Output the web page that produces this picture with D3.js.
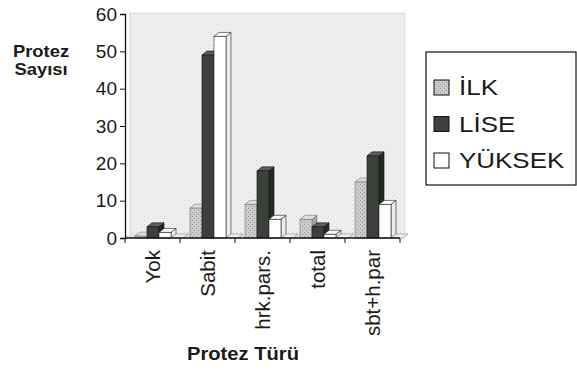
<!DOCTYPE html>
<html>
<head>
<meta charset="utf-8">
<script src="https://cdn.jsdelivr.net/npm/d3@7"></script>
<style>
  body { margin: 0; background: #fff; }
  text { font-family: "Liberation Sans", Arial, sans-serif; fill: #1a1a1a; }
</style>
</head>
<body>
<div class="chart"></div>
<script>
// data
var categories = ["Yok", "Sabit", "hrk.pars.", "total", "sbt+h.par"]
var series = ["İLK", "LİSE", "YÜKSEK"]
var ilk = [0.5, 8, 9, 5, 15]
var lise = [3, 49, 18, 3, 22]
var yuksek = [1.5, 54, 5, 1, 9]
var empty = [0, 0, 0, 0, 0]   // unnamed 4th slot, drawn flat
var yTicks = [0, 10, 20, 30, 40, 50, 60]

var svg = d3.select(".chart").append("svg").attr("width", 577).attr("height", 370)

var defs = svg.append("defs")
function dots(id, bg, dot) {
  var p = defs.append("pattern").attr("id", id).attr("width", 4).attr("height", 4).attr("patternUnits", "userSpaceOnUse")
  p.append("rect").attr("width", 4).attr("height", 4).attr("fill", bg)
  p.append("rect").attr("x", 0).attr("y", 0).attr("width", 1).attr("height", 1).attr("fill", dot)
  p.append("rect").attr("x", 2).attr("y", 2).attr("width", 1).attr("height", 1).attr("fill", dot)
}
dots("wall", "#f0f0f0", "#d6d6d6")
dots("ilkFront", "#cbcbcb", "#9a9a9a")
dots("ilkSide", "#a9a9a9", "#808080")

var x = d3.scaleBand().domain(categories).range([125, 400])
var inner = d3.scaleBand().domain(["İLK", "LİSE", "YÜKSEK", "-"]).range([10, 58])
var y = d3.scaleLinear().domain([0, 60]).range([238, 14])
var dx = 5, dy = 4

// back wall + floor
svg.append("rect").attr("x", 130).attr("y", y(60) - 1).attr("width", 275).attr("height", y(0) - dy - y(60) + 1)
  .attr("fill", "url(#wall)").attr("stroke", "#c8c8c8").attr("stroke-width", 0.6)
svg.append("polygon")
  .attr("points", [[125, y(0)], [130, y(0) - dy], [405, y(0) - dy], [400, y(0)]].join(" "))
  .attr("fill", "#e2e2e2")

var styles = {
  "İLK": { front: "url(#ilkFront)", side: "url(#ilkSide)", top: "#dedede", stroke: "#777" },
  "LİSE": { front: "#3b403b", side: "#252825", top: "#5a5f5a", stroke: "#111" },
  "YÜKSEK": { front: "#ffffff", side: "#ececec", top: "#fafafa", stroke: "#222" },
  "-": { front: "#e4e4e4", side: "#cfcfcf", top: "#eeeeee", stroke: "#999" }
}

var bars = []
categories.forEach((c, i) => {
  bars.push({ c: c, s: "İLK", v: ilk[i] })
  bars.push({ c: c, s: "LİSE", v: lise[i] })
  bars.push({ c: c, s: "YÜKSEK", v: yuksek[i] })
  bars.push({ c: c, s: "-", v: empty[i] })
})

var w = inner.bandwidth()
svg.selectAll("g.bar").data(bars).enter().append("g").attr("class", "bar")
  .each(function (d) {
    var x0 = x(d.c) + inner(d.s), yv = y(d.v), y0 = y(0), st = styles[d.s]
    var el = d3.select(this)
    el.append("polygon")
      .attr("points", [[x0 + w, yv], [x0 + w + dx, yv - dy], [x0 + w + dx, y0 - dy], [x0 + w, y0]].join(" "))
      .attr("fill", st.side).attr("stroke", st.stroke).attr("stroke-width", 0.6)
    el.append("polygon")
      .attr("points", [[x0, yv], [x0 + dx, yv - dy], [x0 + w + dx, yv - dy], [x0 + w, yv]].join(" "))
      .attr("fill", st.top).attr("stroke", st.stroke).attr("stroke-width", 0.6)
    el.append("rect").attr("x", x0).attr("y", yv).attr("width", w).attr("height", y0 - yv)
      .attr("fill", st.front).attr("stroke", st.stroke).attr("stroke-width", 0.6)
  })

// y axis
var yAxis = svg.append("g").attr("transform", "translate(125,0)")
  .call(d3.axisLeft(y).tickValues(yTicks).tickSize(5).tickPadding(3))
yAxis.select(".domain").attr("stroke", "#111").attr("stroke-width", 1.3)
yAxis.selectAll(".tick line").attr("stroke", "#111")
yAxis.selectAll("text").style("font-size", "19px").style("font-family", "Liberation Sans, Arial, sans-serif").attr("fill", "#1a1a1a")

// x axis
svg.append("line").attr("x1", 125).attr("x2", 400).attr("y1", y(0)).attr("y2", y(0)).attr("stroke", "#111").attr("stroke-width", 1.3)
categories.concat(["end"]).forEach((c, i) => {
  var tx = i < categories.length ? x(c) : x.range()[1]
  svg.append("line").attr("x1", tx).attr("x2", tx).attr("y1", y(0)).attr("y2", y(0) + 5).attr("stroke", "#111")
})
svg.selectAll("text.cat").data(categories).enter().append("text").attr("class", "cat")
  .attr("transform", d => "translate(" + (x(d) + x.bandwidth() / 2 + 7) + ",250) rotate(-90)")
  .attr("text-anchor", "end")
  .style("font-size", "20.5px")
  .text(d => d)

// titles
svg.append("text").attr("transform", "translate(41,57) scale(1.15,1)").attr("text-anchor", "middle").style("font-size", "16px").style("font-weight", "bold").text("Protez")
svg.append("text").attr("transform", "translate(41,75) scale(1.15,1)").attr("text-anchor", "middle").style("font-size", "16px").style("font-weight", "bold").text("Sayısı")
svg.append("text").attr("transform", "translate(243,360) scale(1.12,1)").attr("text-anchor", "middle").style("font-size", "18px").style("font-weight", "bold").text("Protez Türü")

// legend
svg.append("rect").attr("x", 426).attr("y", 52).attr("width", 150).attr("height", 133).attr("fill", "#fff").attr("stroke", "#111").attr("stroke-width", 1.2)
var legFill = ["url(#ilkFront)", "#3b403b", "#ffffff"]
series.forEach((s, i) => {
  var cy = 87 + i * 36.5
  svg.append("rect").attr("x", 434).attr("y", cy - 7).attr("width", 15).attr("height", 15).attr("fill", legFill[i]).attr("stroke", "#111").attr("stroke-width", 1)
  svg.append("text").attr("transform", "translate(459," + (cy + 8) + ") scale(1.18,1)").style("font-size", "22px").text(s)
})
</script>
</body>
</html>
